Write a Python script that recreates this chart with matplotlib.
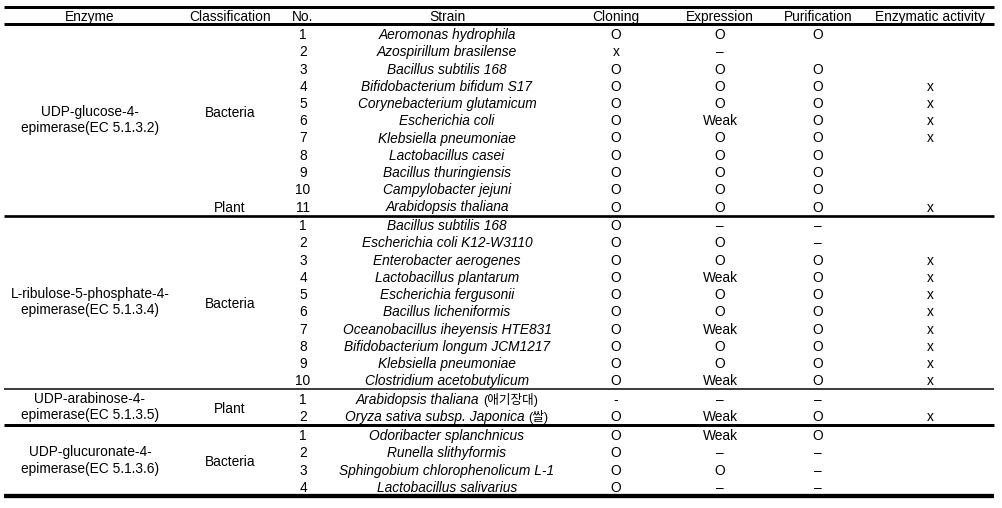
import matplotlib
matplotlib.use("Agg")
import matplotlib.pyplot as plt

plt.rcParams["font.family"] = ["Liberation Sans", "Noto Sans CJK KR"]

headers = ["Enzyme", "Classification", "No.", "Strain", "Cloning",
           "Expression", "Purification", "Enzymatic activity"]

enzymes = [
    "UDP-glucose-4-\nepimerase(EC 5.1.3.2)",
    "L-ribulose-5-phosphate-4-\nepimerase(EC 5.1.3.4)",
    "UDP-arabinose-4-\nepimerase(EC 5.1.3.5)",
    "UDP-glucuronate-4-\nepimerase(EC 5.1.3.6)",
]
group_sizes = [11, 10, 2, 4]

classification = ["Bacteria"] * 10 + ["Plant"] + ["Bacteria"] * 10 + ["Plant"] * 2 + ["Bacteria"] * 4

strains = [
    "Aeromonas hydrophila", "Azospirillum brasilense", "Bacillus subtilis 168",
    "Bifidobacterium bifidum S17", "Corynebacterium glutamicum", "Escherichia coli",
    "Klebsiella pneumoniae", "Lactobacillus casei", "Bacillus thuringiensis",
    "Campylobacter jejuni", "Arabidopsis thaliana",
    "Bacillus subtilis 168", "Escherichia coli K12-W3110", "Enterobacter aerogenes",
    "Lactobacillus plantarum", "Escherichia fergusonii", "Bacillus licheniformis",
    "Oceanobacillus iheyensis HTE831", "Bifidobacterium longum JCM1217",
    "Klebsiella pneumoniae", "Clostridium acetobutylicum",
    "Arabidopsis thaliana", "Oryza sativa subsp. Japonica",
    "Odoribacter splanchnicus", "Runella slithyformis",
    "Sphingobium chlorophenolicum L-1", "Lactobacillus salivarius",
]
strain_notes = [""] * 21 + ["(애기장대)", "(쌀)"] + [""] * 4

cloning = ["O", "x"] + ["O"] * 19 + ["-", "O"] + ["O"] * 4
expression = [
    "O", "–", "O", "O", "O", "Weak", "O", "O", "O", "O", "O",
    "–", "O", "O", "Weak", "O", "O", "Weak", "O", "O", "Weak",
    "–", "Weak",
    "Weak", "–", "O", "–",
]
purification = [
    "O", "", "O", "O", "O", "O", "O", "O", "O", "O", "O",
    "–", "–", "O", "O", "O", "O", "O", "O", "O", "O",
    "–", "O",
    "O", "–", "–", "–",
]
activity = [
    "", "", "", "x", "x", "x", "x", "", "", "", "x",
    "", "", "x", "x", "x", "x", "x", "x", "x", "x",
    "", "x",
    "", "", "", "",
]

col_x = [90, 230, 303, 447, 616, 720, 818, 930]
rule_widths = [3, 3, 2.7, 1.5, 3, 4.3]  # px
row_h = 17.25
fs = 9.9
dy = -0.8  # nudge text up a bit inside its row

fig = plt.figure(figsize=(10.02, 5.08), dpi=100)
ax = fig.add_axes([0, 0, 1, 1])
ax.set_xlim(0, 1002)
ax.set_ylim(508, 0)
ax.axis("off")


def rule(y, w):
    ax.plot([4, 994], [y, y], color="black", lw=w * 0.72, solid_capstyle="butt")


rule(6.5, rule_widths[0])
for x, h in zip(col_x, headers):
    ax.text(x, 15.5, h, ha="center", va="center_baseline", fontsize=fs)
line_y = 24.3
rule(line_y, rule_widths[1])

renderer = fig.canvas.get_renderer()
i = 0
for g, (enz, n) in enumerate(zip(enzymes, group_sizes)):
    ys = [line_y + 10 + k * row_h for k in range(n)]
    ax.text(col_x[0], (ys[0] + ys[-1]) / 2 + dy, enz, ha="center", va="center",
            fontsize=fs, linespacing=1.2)
    # classification runs inside the group
    start = 0
    for k in range(1, n + 1):
        if k == n or classification[i + k] != classification[i + start]:
            ax.text(col_x[1], (ys[start] + ys[k - 1]) / 2 + dy, classification[i + start],
                    ha="center", va="center_baseline", fontsize=fs)
            start = k
    for k in range(n):
        r = i + k
        y = ys[k] + dy
        ax.text(col_x[2], y, str(k + 1), ha="center", va="center_baseline", fontsize=fs)
        if strain_notes[r]:
            t1 = ax.text(0, y, strains[r], ha="left", va="center_baseline",
                         fontsize=fs, style="italic")
            t2 = ax.text(0, y, strain_notes[r], ha="left", va="center_baseline",
                         fontsize=fs - 0.8)
            w1 = t1.get_window_extent(renderer).width
            w2 = t2.get_window_extent(renderer).width
            gap = 4
            x0 = col_x[3] - (w1 + gap + w2) / 2
            t1.set_x(x0)
            t2.set_x(x0 + w1 + gap)
        else:
            ax.text(col_x[3], y, strains[r], ha="center", va="center_baseline",
                    fontsize=fs, style="italic")
        for x, vals in zip(col_x[4:], [cloning, expression, purification, activity]):
            if vals[r]:
                ax.text(x, y, vals[r], ha="center", va="center_baseline", fontsize=fs)
    line_y = ys[-1] + 8.7
    rule(line_y, rule_widths[g + 2])
    i += n

fig.savefig("out.png", dpi=100)
